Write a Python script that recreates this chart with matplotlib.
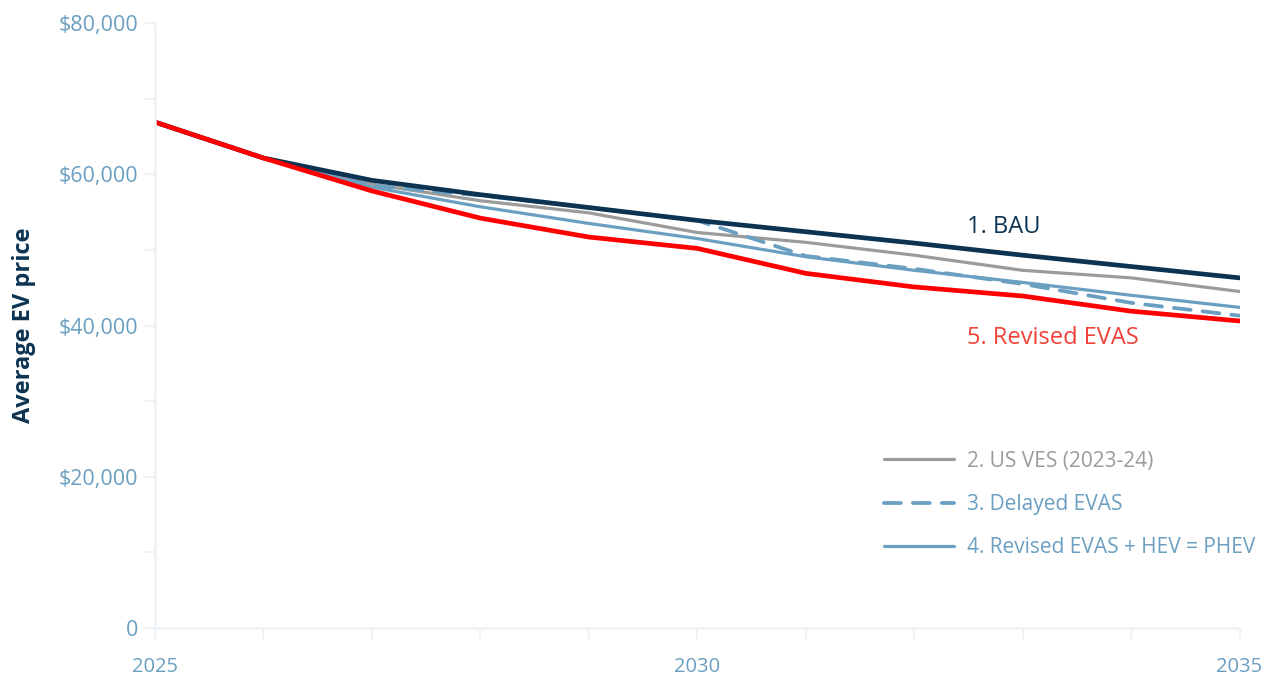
import matplotlib
matplotlib.use("Agg")
import matplotlib.pyplot as plt
from matplotlib.ticker import FuncFormatter, MultipleLocator

years = [2025, 2026, 2027, 2028, 2029, 2030, 2031, 2032, 2033, 2034, 2035]
bau = [66900, 62150, 59200, 57300, 55600, 53900, 52400, 50900, 49300, 47800, 46300]
us_ves = [66900, 62150, 58700, 56500, 54900, 52300, 51000, 49300, 47300, 46300, 44500]
delayed = [66900, 62150, 58500, 57200, 55600, 53900, 49200, 47500, 45500, 43000, 41300]
revised_hev = [66900, 62150, 58300, 55700, 53500, 51500, 49100, 47300, 45700, 44000, 42400]
revised = [66900, 62150, 57800, 54200, 51700, 50200, 46900, 45100, 43900, 41900, 40600]

NAVY = "#0c3452"
RED = "#ff0000"
RED_TXT = "#ef4136"
GRAY = "#9b9b9b"
LBLUE = "#6a9fc2"
TICK = "#6a9fc2"
SPINE = "#edf2f6"

plt.rcParams['font.family'] = ['Open Sans', 'DejaVu Sans']

fig = plt.figure(figsize=(12.7, 6.75), dpi=100)
ax = fig.add_axes([0.122, 0.0696, 0.854, 0.8963])

ax.plot(years, us_ves, color=GRAY, lw=2.3, label="2. US VES (2023-24)", solid_capstyle='round')
ax.plot(years, revised_hev, color=LBLUE, lw=2.3, label="4. Revised EVAS + HEV = PHEV", solid_capstyle='round')
ax.plot(years, delayed, color=LBLUE, lw=2.7, ls=(0, (4.5, 3.2)), label="3. Delayed EVAS", dash_capstyle='round')
ax.plot(years, bau, color=NAVY, lw=3.4, solid_capstyle='round')
ax.plot(years, revised, color=RED, lw=3.4, solid_capstyle='round')

ax.set_xlim(2025, 2035)
ax.set_ylim(0, 80000)
ax.xaxis.set_major_locator(MultipleLocator(1))
ax.yaxis.set_major_locator(MultipleLocator(10000))
ax.xaxis.set_major_formatter(FuncFormatter(lambda v, p: f"{int(round(v))}" if int(round(v)) in (2025, 2030, 2035) else ""))
ax.yaxis.set_major_formatter(FuncFormatter(lambda v, p: ("0" if v == 0 else f"${int(v):,}") if int(v) % 20000 == 0 else ""))

for s in ("top", "right"):
    ax.spines[s].set_visible(False)
for s in ("left", "bottom"):
    ax.spines[s].set_color(SPINE)
    ax.spines[s].set_linewidth(1.8)
ax.tick_params(axis='both', colors=SPINE, width=1.5, labelcolor=TICK)
ax.tick_params(axis='y', length=7, pad=5, labelsize=15.5)
ax.tick_params(axis='x', length=8, pad=13, labelsize=14.5)

ax.set_ylabel("Average EV price", color=NAVY, fontsize=17, fontweight='bold', labelpad=16)

ax.text(2032.49, 53000, "1. BAU", color=NAVY, fontsize=17, va='center', ha='left')
ax.text(2032.49, 38350, "5. Revised EVAS", color=RED_TXT, fontsize=17, va='center', ha='left')

h, l = ax.get_legend_handles_labels()
order = [0, 2, 1]
leg = ax.legend([h[i] for i in order], [l[i] for i in order], loc='upper left',
                bbox_to_anchor=(0.655, 0.324), frameon=False, fontsize=15,
                handlelength=3.37, handletextpad=0.62, labelspacing=1.07,
                labelcolor='linecolor')

fig.savefig("out.png", dpi=100)
